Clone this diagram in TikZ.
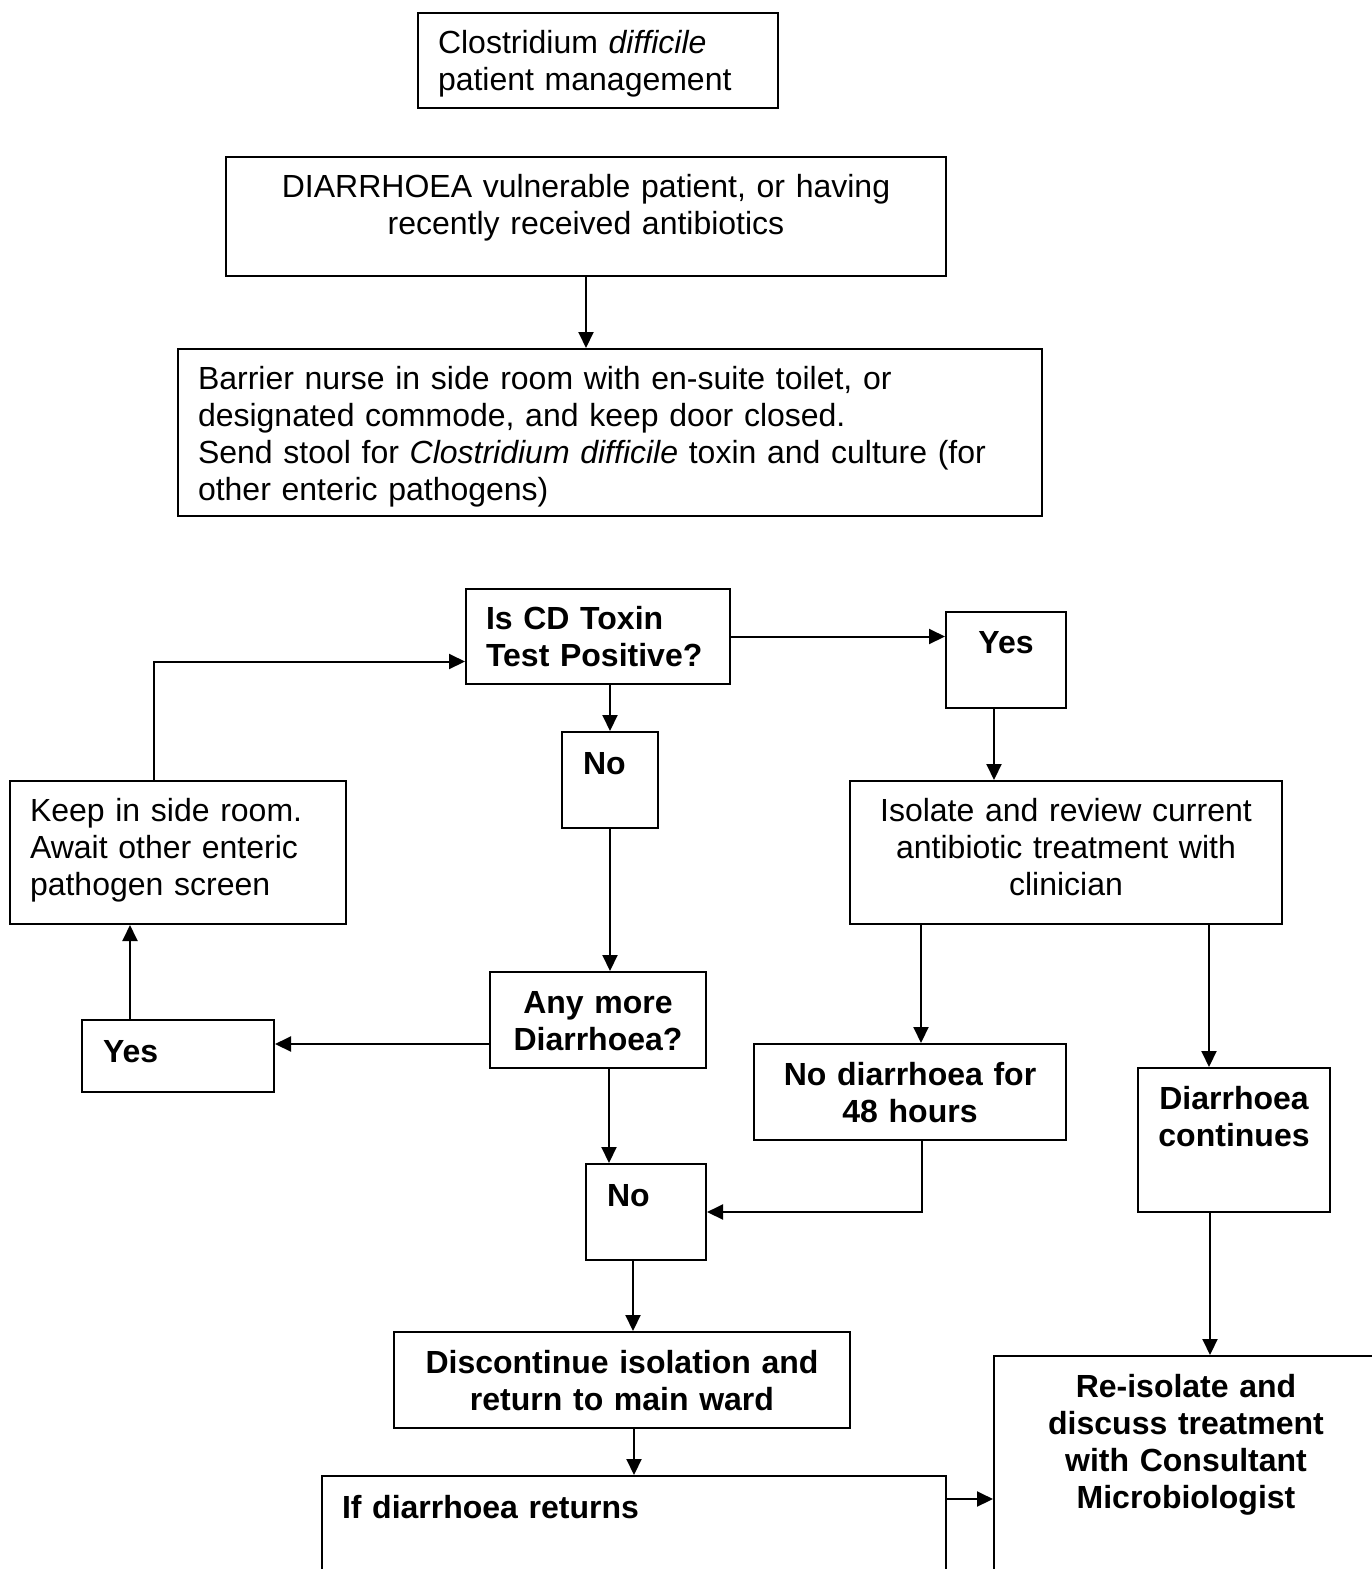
\documentclass[tikz,border=0pt]{standalone}
\usepackage{fontspec}
\setmainfont{Liberation Sans}
\usetikzlibrary{arrows.meta}
\begin{document}
\begin{tikzpicture}[x=1pt, y=-1pt, line width=2pt,
    font=\fontsize{32}{37}\selectfont,
    box/.style={draw, anchor=north west, inner ysep=0pt, inner xsep=20pt, align=left},
    cbox/.style={draw, anchor=north west, inner ysep=0pt, inner xsep=10pt, align=center},
    arr/.style={-{Triangle[length=16pt,width=15pt]}}]
    \useasboundingbox (0,0) rectangle (1372,1569);
    \clip (0,0) rectangle (1372,1569);

    % top part
    \node[box, text width=320pt, text height=40pt, text depth=55pt] (title) at (417,12)
        {Clostridium \textit{difficile}\\patient management};
    \node[cbox, text width=700pt, text height=40pt, text depth=79pt] (risk) at (225,156)
        {DIARRHOEA vulnerable patient, or having\\recently received antibiotics};
    \node[box, text width=824pt, text height=40pt, text depth=127pt] (barrier) at (177,348)
        {Barrier nurse in side room with en-suite toilet, or\\designated commode, and keep door closed.\\Send stool for \textit{Clostridium difficile} toxin and culture (for\\other enteric pathogens)};

    % toxin test
    \node[box, text width=224pt, text height=40pt, text depth=55pt, font=\fontsize{32}{37}\selectfont\bfseries] (toxin) at (465,588)
        {Is CD Toxin\\Test Positive?};
    \node[cbox, text width=100pt, text height=41pt, text depth=55pt, font=\fontsize{32}{37}\selectfont\bfseries] (yesA) at (945,611) {Yes};
    \node[box, inner xsep=21pt, text width=54pt, text height=42pt, text depth=54pt, font=\fontsize{32}{37}\selectfont\bfseries] (noA) at (561,731) {No};
    \node[box, text width=296pt, text height=40pt, text depth=103pt] (keep) at (9,780)
        {Keep in side room.\\Await other enteric\\pathogen screen};
    \node[cbox, text width=412pt, text height=40pt, text depth=103pt] (isolate) at (849,780)
        {Isolate and review current\\antibiotic treatment with\\clinician};

    % follow up
    \node[cbox, text width=196pt, text height=41pt, text depth=55pt, font=\fontsize{32}{37}\selectfont\bfseries] (more) at (489,971)
        {Any more\\Diarrhoea?};
    \node[box, inner xsep=21pt, text width=150pt, text height=42pt, text depth=30pt, font=\fontsize{32}{37}\selectfont\bfseries] (yesB) at (81,1019) {Yes};
    \node[cbox, text width=292pt, text height=41pt, text depth=55pt, font=\fontsize{32}{37}\selectfont\bfseries] (clear) at (753,1043)
        {No diarrhoea for\\48 hours};
    \node[cbox, text width=172pt, text height=41pt, text depth=103pt, font=\fontsize{32}{37}\selectfont\bfseries] (persist) at (1137,1067)
        {Diarrhoea\\continues};
    \node[box, inner xsep=21pt, text width=78pt, text height=42pt, text depth=54pt, font=\fontsize{32}{37}\selectfont\bfseries] (noB) at (585,1163) {No};
    \node[cbox, text width=436pt, text height=41pt, text depth=55pt, font=\fontsize{32}{37}\selectfont\bfseries] (discontinue) at (393,1331)
        {Discontinue isolation and\\return to main ward};
    \node[box, text width=584pt, text height=42pt, text depth=83pt, font=\fontsize{32}{37}\selectfont\bfseries] (returns) at (321,1475)
        {If diarrhoea returns};
    \node[cbox, text width=364pt, text height=41pt, text depth=204pt, font=\fontsize{32}{37}\selectfont\bfseries] (reisolate) at (993,1355)
        {Re-isolate and\\discuss treatment\\with Consultant\\Microbiologist};

    % connectors
    \draw[arr] (risk.south) -- (risk.south |- barrier.north);
    \draw[arr] (toxin.east) -- (toxin.east -| yesA.west);
    \draw[arr] (noA.north |- toxin.south) -- (noA.north);
    \draw[arr] ([xshift=-12pt]yesA.south) -- ([xshift=-12pt]yesA.south |- isolate.north);
    \draw[arr] ([xshift=-24pt]keep.north) |- ([yshift=-25pt]toxin.west);
    \draw[arr] (noA.south) -- (noA.south |- more.north);
    \draw[arr] ([yshift=-24pt]more.west) -- ([yshift=-24pt]more.west -| yesB.east);
    \draw[arr] ([xshift=-48pt]yesB.north) -- ([xshift=-48pt]yesB.north |- keep.south);
    \draw[arr] ([xshift=72pt]isolate.south west) -- ([xshift=72pt]isolate.south west |- clear.north);
    \draw[arr] ([xshift=360pt]isolate.south west) -- ([xshift=360pt]isolate.south west |- persist.north);
    \draw[arr] ([xshift=24pt]noB.north west |- more.south) -- ([xshift=24pt]noB.north west);
    \draw[arr] ([xshift=12pt]clear.south) |- (noB.east);
    \draw[arr] ([xshift=48pt]noB.south west) -- ([xshift=48pt]noB.south west |- discontinue.north);
    \draw[arr] ([xshift=12pt]discontinue.south) -- ([xshift=12pt]discontinue.south |- returns.north);
    \draw[arr] ([xshift=-24pt]persist.south) -- ([xshift=-24pt]persist.south |- reisolate.north);
    \draw[arr] ([yshift=-24pt]returns.north east) -- ([yshift=-24pt]returns.north east -| reisolate.west);
\end{tikzpicture}
\end{document}
